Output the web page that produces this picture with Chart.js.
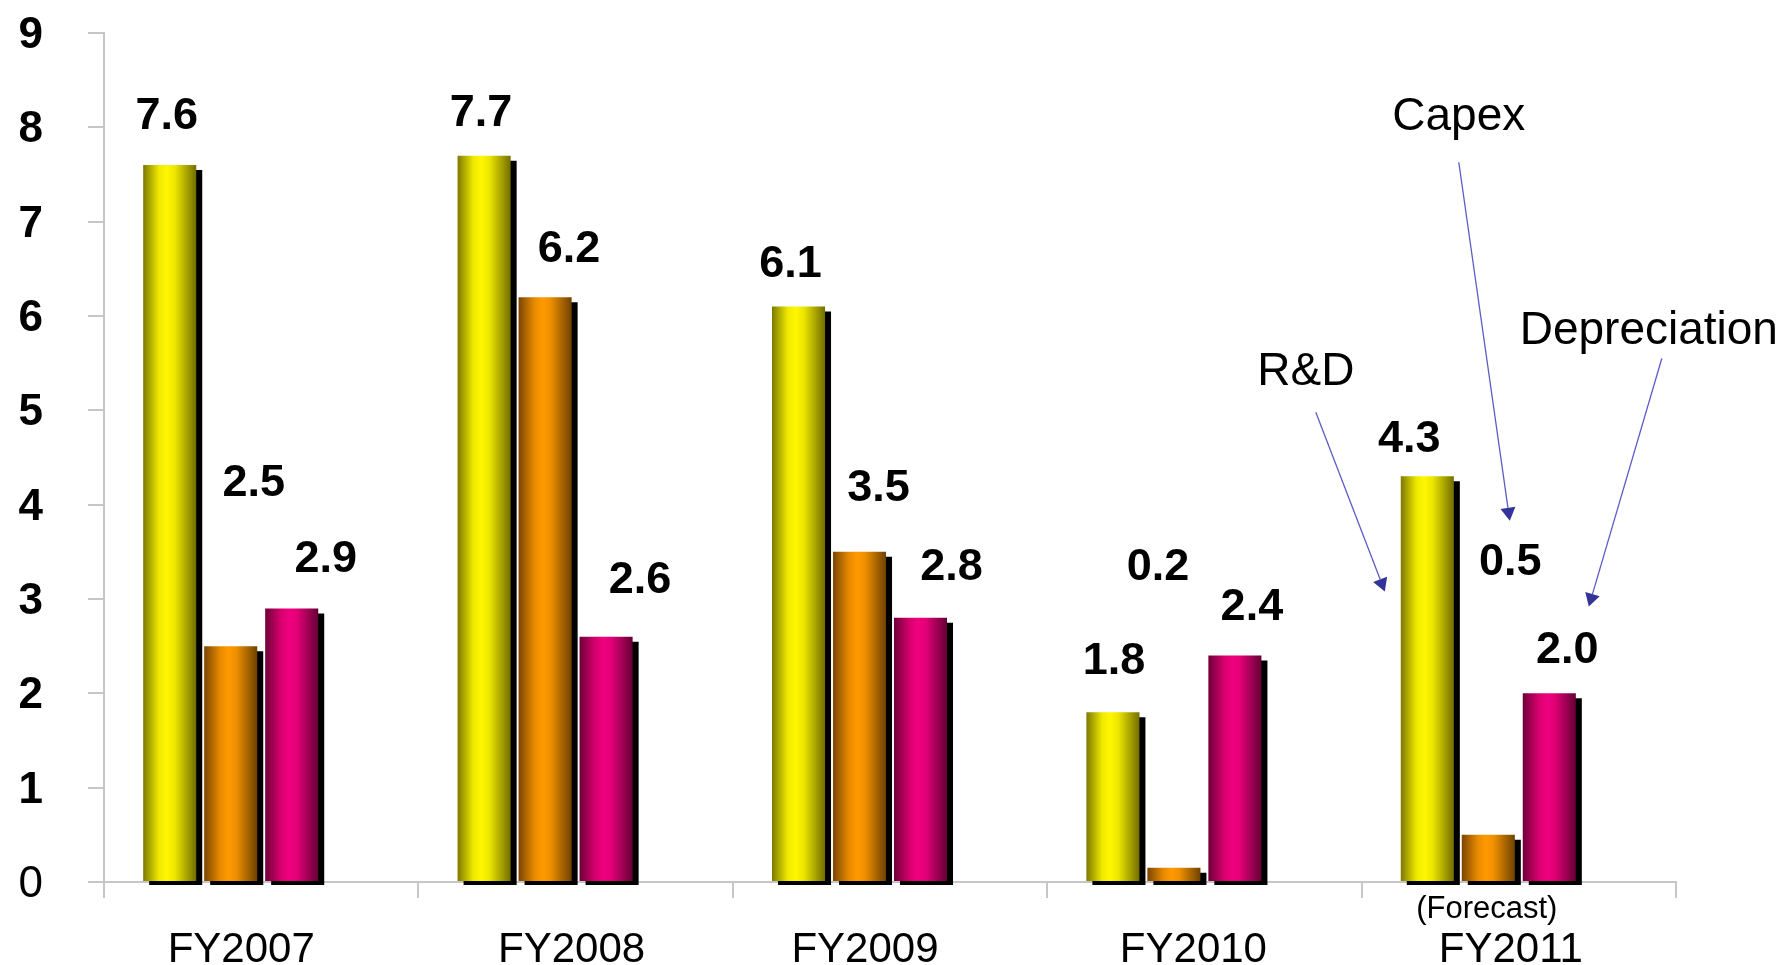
<!DOCTYPE html>
<html>
<head>
<meta charset="utf-8">
<script src="https://cdn.jsdelivr.net/npm/chart.js@4.4.0/dist/chart.umd.min.js"></script>
<style>
  html, body { margin: 0; padding: 0; background: #ffffff; }
  canvas { display: block; }
</style>
</head>
<body>
<canvas id="chart" width="1791" height="965"></canvas>
<script>
// ---------------- data ----------------
const categories = ['FY2007', 'FY2008', 'FY2009', 'FY2010', 'FY2011'];
const seriesNames = ['R&D', 'Capex', 'Depreciation'];
const rdValues = [7.6, 7.7, 6.1, 1.8, 4.3];
const capexValues = [2.5, 6.2, 3.5, 0.15, 0.5];
const depreciationValues = [2.9, 2.6, 2.8, 2.4, 2.0];
const yTickValues = [0, 1, 2, 3, 4, 5, 6, 7, 8, 9];
const forecastNote = '(Forecast)';

// ---------------- styling / layout ----------------
const FONT = '"Liberation Sans", Arial, Helvetica, sans-serif';
const AXIS_GREY = '#c6c6c6';
const TEXT_DY = 4; // optical correction for 'middle' baseline

const gradientStops = [
  [[0, '#7d7900'], [0.3, '#f0ea00'], [0.45, '#fff600'], [0.6, '#ece600'], [1, '#726e00']],
  [[0, '#7a4600'], [0.3, '#e88a00'], [0.45, '#ff9900'], [0.6, '#f09000'], [1, '#6e4200']],
  [[0, '#6e0038'], [0.3, '#d8006e'], [0.45, '#f0007f'], [0.6, '#e20077'], [1, '#640034']]
];

// pixel nudges of each value label from the top-centre of its bar
const labelNudge = [
  [[-3, -52], [-3, -46], [-8, -46], [1, -55], [-18, -41]],
  [[23, -167], [24, -52], [19, -67], [-16, -304], [22, -276]],
  [[34, -53], [34, -60], [31, -54], [17, -52], [18, -47]]
];
// pixel nudges of the category labels from their category centre
const categoryLabelNudge = [-20, -4, -25, -11, -8];

// callouts: text anchored to the FY2011 category (pixel offset from its centre, value on y)
const callouts = [
  { text: 'Capex',        at: [-60, 8.15], from: [-60, 7.63], to: [-9, 3.83] },
  { text: 'R&D',          at: [-213, 5.45], from: [-203, 4.98], to: [-134, 3.08] },
  { text: 'Depreciation', at: [130, 5.88], from: [143, 5.55], to: [70, 2.92] }
];

function barFill(stops) {
  return (c) => {
    const el = c.element;
    if (!el || !isFinite(el.x) || !el.width) return stops[2][1];
    const g = c.chart.ctx.createLinearGradient(el.x - el.width / 2, 0, el.x + el.width / 2, 0);
    stops.forEach(([o, col]) => g.addColorStop(o, col));
    return g;
  };
}

const shadowPlugin = {
  id: 'barShadow',
  beforeDatasetDraw(chart) {
    const ctx = chart.ctx;
    ctx.save();
    ctx.shadowColor = '#000000';
    ctx.shadowOffsetX = 6;
    ctx.shadowOffsetY = 5;
    ctx.shadowBlur = 0;
  },
  afterDatasetDraw(chart) {
    chart.ctx.restore();
  }
};

const valueLabelPlugin = {
  id: 'valueLabels',
  afterDatasetsDraw(chart) {
    const ctx = chart.ctx;
    ctx.save();
    ctx.fillStyle = '#000';
    ctx.font = 'bold 45px ' + FONT;
    ctx.textAlign = 'center';
    ctx.textBaseline = 'middle';
    for (let d = 0; d < 3; d++) {
      const meta = chart.getDatasetMeta(d);
      const vals = chart.data.datasets[d].data;
      meta.data.forEach((el, i) => {
        const v = vals[i];
        if (v == null) return;
        const txt = (Math.round(v * 10) / 10).toFixed(1);
        const [dx, dy] = labelNudge[d][i];
        ctx.fillText(txt, el.x + dx, el.y + dy + TEXT_DY);
      });
    }
    ctx.restore();
  }
};

const calloutPlugin = {
  id: 'callouts',
  afterDraw(chart) {
    const ctx = chart.ctx;
    const xs = chart.scales.x, ys = chart.scales.y;
    const bottom = chart.chartArea.bottom;
    ctx.save();
    ctx.fillStyle = '#000';
    ctx.textAlign = 'center';
    ctx.textBaseline = 'middle';
    // category labels
    ctx.font = '42px ' + FONT;
    categories.forEach((lab, i) => {
      ctx.fillText(lab, xs.getPixelForValue(i) + categoryLabelNudge[i], bottom + 65 + TEXT_DY - 1);
    });
    const cx = xs.getPixelForValue(categories.length - 1);
    // forecast note
    ctx.font = '31px ' + FONT;
    ctx.fillText(forecastNote, cx - 32, bottom + 27);
    // callouts
    ctx.font = '46px ' + FONT;
    callouts.forEach(c => {
      ctx.fillStyle = '#000';
      ctx.fillText(c.text, cx + c.at[0], ys.getPixelForValue(c.at[1]) + TEXT_DY);
      const x1 = cx + c.from[0], y1 = ys.getPixelForValue(c.from[1]);
      const x2 = cx + c.to[0], y2 = ys.getPixelForValue(c.to[1]);
      const ang = Math.atan2(y2 - y1, x2 - x1);
      const headLen = 13, headHalf = 7.5;
      const bx = x2 - headLen * Math.cos(ang), by = y2 - headLen * Math.sin(ang);
      ctx.strokeStyle = '#5c5cc8';
      ctx.lineWidth = 1.3;
      ctx.beginPath();
      ctx.moveTo(x1, y1);
      ctx.lineTo(bx, by);
      ctx.stroke();
      ctx.fillStyle = '#333399';
      ctx.beginPath();
      ctx.moveTo(x2, y2);
      ctx.lineTo(bx + headHalf * Math.sin(ang), by - headHalf * Math.cos(ang));
      ctx.lineTo(bx - headHalf * Math.sin(ang), by + headHalf * Math.cos(ang));
      ctx.closePath();
      ctx.fill();
    });
    ctx.restore();
  }
};

const seriesValues = [rdValues, capexValues, depreciationValues];
const datasets = seriesValues.map((vals, k) => ({
  label: seriesNames[k],
  data: vals,
  backgroundColor: barFill(gradientStops[k]),
  borderWidth: 0,
  categoryPercentage: 0.776,
  barPercentage: 0.87,
  clip: { left: false, top: false, right: false, bottom: 3 }
}));
// empty slot that keeps the three bars left of each category centre
datasets.push({ label: '', data: categories.map(() => null), categoryPercentage: 0.776, barPercentage: 0.87 });

const chart = new Chart(document.getElementById('chart'), {
  type: 'bar',
  data: { labels: categories, datasets },
  options: {
    responsive: false,
    animation: false,
    devicePixelRatio: 1,
    layout: { padding: { top: 33, right: 115, bottom: 0, left: 0 } },
    plugins: { legend: { display: false }, tooltip: { enabled: false } },
    scales: {
      x: {
        z: 1,
        offset: true,
        grid: { offset: true, drawOnChartArea: false, drawTicks: true, tickLength: 16, color: AXIS_GREY, lineWidth: 2 },
        border: { display: true, color: AXIS_GREY, width: 2 },
        ticks: { display: false, autoSkip: false, maxRotation: 0 },
        afterFit(s) { s.height = 83; s.paddingLeft = 0; s.paddingRight = 0; }
      },
      y: {
        min: 0, max: 9,
        afterBuildTicks(s) { s.ticks = yTickValues.map(v => ({ value: v })); },
        grid: { drawOnChartArea: false, drawTicks: true, tickLength: 16, color: AXIS_GREY, lineWidth: 2 },
        border: { display: true, color: AXIS_GREY, width: 2 },
        ticks: {
          color: '#000',
          padding: 45,
          labelOffset: 3,
          font: (c) => ({ family: FONT, size: 44, weight: (c.tick && c.tick.value === 0) ? 'normal' : 'bold' })
        },
        afterFit(s) { s.width = 104; s.paddingTop = 0; s.paddingBottom = 0; }
      }
    }
  },
  plugins: [shadowPlugin, valueLabelPlugin, calloutPlugin]
});
chart.update();
</script>
</body>
</html>
